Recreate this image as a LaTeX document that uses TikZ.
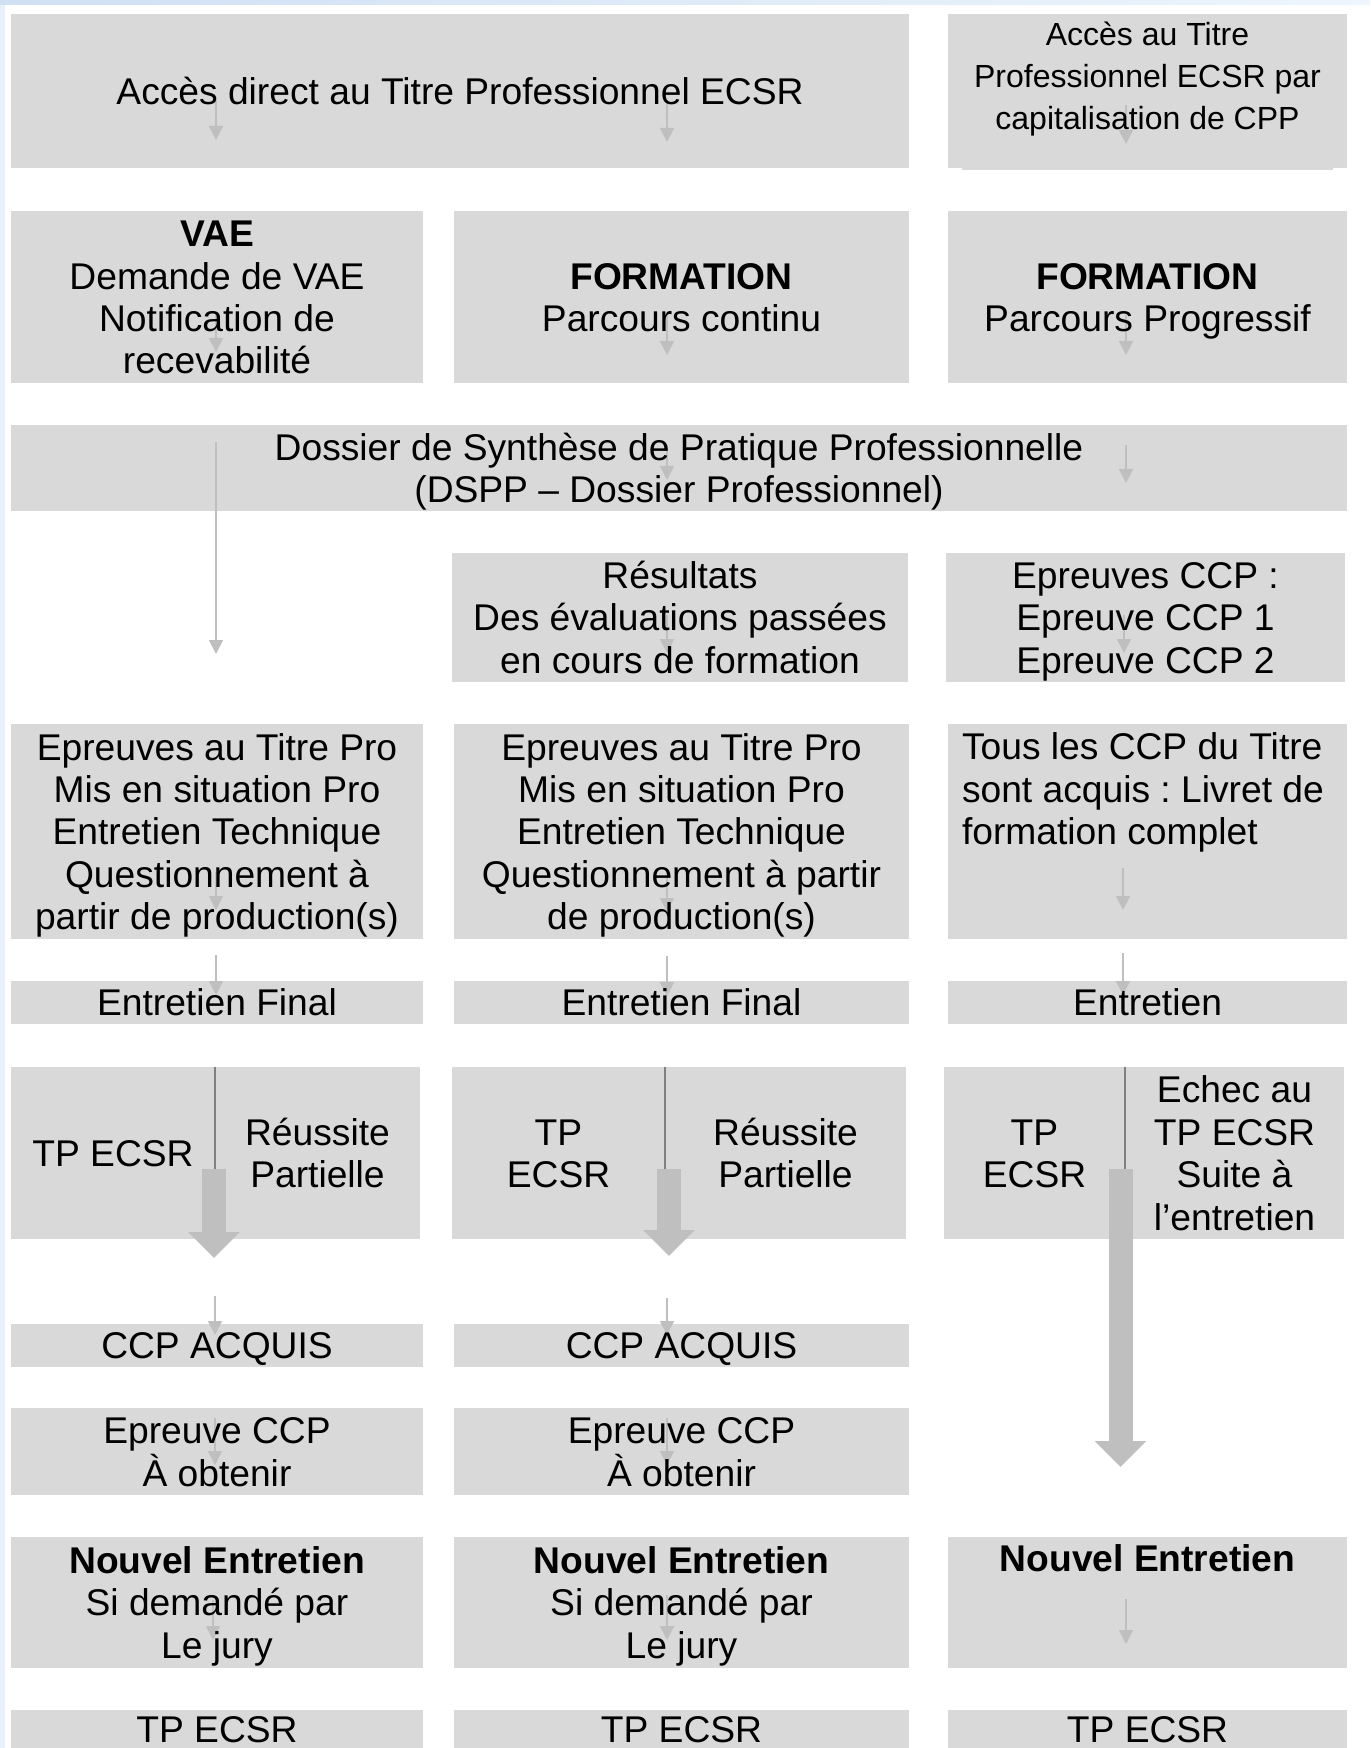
\documentclass[tikz,border=0pt]{standalone}
\usepackage{fontspec}
\setmainfont{Liberation Sans}
\usetikzlibrary{arrows.meta}
\definecolor{boxgray}{HTML}{D9D9D9}
\definecolor{arrgray}{HTML}{BFBFBF}
\definecolor{divgray}{HTML}{808080}
\definecolor{bluea}{HTML}{CFE0F4}
\definecolor{blueb}{HTML}{EEF5FC}
\definecolor{bluec}{HTML}{E8F1FB}
\pgfdeclarelayer{back}
\pgfdeclarelayer{mid}
\pgfsetlayers{back,mid,main}
\newcommand{\myfs}{\fontsize{18.6pt}{21.2pt}\selectfont}
\newcommand{\mysm}{\fontsize{16pt}{20.9pt}\selectfont}
\newcommand{\stL}{\rule[-3.8pt]{0pt}{21pt}}
\newcommand{\stS}{\rule[-4.5pt]{0pt}{20.5pt}}
\frenchspacing
\begin{document}
\begin{tikzpicture}[x=0.5pt,y=-0.5pt,
 box/.style={inner sep=0pt,outer sep=0pt,align=center,font=\myfs,
   execute at end node=\stL},
 txt/.style={inner sep=0pt,outer sep=0pt,font=\myfs,
   execute at end node=\stL},
 plaintxt/.style={inner sep=0pt,outer sep=0pt,font=\myfs},
 smalltxt/.style={inner sep=0pt,outer sep=0pt,font=\mysm,align=center,
   execute at end node=\stS},
 tarrow/.style={draw=arrgray,line width=0.9pt,-{Triangle[width=7pt,length=7pt]}},
 barrow/.style={draw=arrgray,line width=12pt,-{Triangle[width=25pt,length=13pt]}},
 divider/.style={draw=divgray,line width=1pt}]
\useasboundingbox (0,0) rectangle (1370,1748);
\clip (0,0) rectangle (1370,1748);

% row 1
\node[box,minimum width=449pt,minimum height=77pt] (top) at (460,91) {\stL Accès direct au Titre Professionnel ECSR};
\node[box,minimum width=199.5pt,minimum height=77pt] (topr) at (1147.5,91) {};
\node[smalltxt] (toprt) at (1147.5,76) {\stS Accès au Titre\\Professionnel ECSR par\\capitalisation de CPP};
% row 2
\node[box,minimum width=206pt,minimum height=86pt] (vae) at (217,297) {\stL\textbf{VAE}\\Demande de VAE\\Notification de\\recevabilité};
\node[box,minimum width=227.5pt,minimum height=86pt] (fc) at (681.5,297) {\stL\textbf{FORMATION}\\Parcours continu};
\node[box,minimum width=199.5pt,minimum height=86pt] (fp) at (1147.5,297) {\stL\textbf{FORMATION}\\Parcours Progressif};
% row 3
\node[box,minimum width=668pt,minimum height=43pt] (dspp) at (679,468) {\stL Dossier de Synthèse de Pratique Professionnelle\\(DSPP – Dossier Professionnel)};
% row 4
\node[box,minimum width=228pt,minimum height=64.5pt] (res) at (680,617.5) {\stL Résultats\\Des évaluations passées\\en cours de formation};
\node[box,minimum width=199.5pt,minimum height=64.5pt] (eccp) at (1145.5,617.5) {\stL Epreuves CCP :\\Epreuve CCP 1\\Epreuve CCP 2};
% row 5
\node[box,minimum width=206pt,minimum height=107.5pt] (etA) at (217,831.5) {\stL Epreuves au Titre Pro\\Mis en situation Pro\\Entretien Technique\\Questionnement à\\partir de production(s)};
\node[box,minimum width=227.5pt,minimum height=107.5pt] (etB) at (681.5,831.5) {\stL Epreuves au Titre Pro\\Mis en situation Pro\\Entretien Technique\\Questionnement à partir\\de production(s)};
\node[box,minimum width=199.5pt,minimum height=107.5pt] (tous) at (1147.5,831.5) {};
\node[txt,align=left,anchor=west] (toust) at (962,789) {\stL Tous les CCP du Titre\\sont acquis : Livret de\\formation complet};
% row 6
\node[box,minimum width=206pt,minimum height=21.5pt] (efA) at (217,1002.5) {\stL Entretien Final};
\node[box,minimum width=227.5pt,minimum height=21.5pt] (efB) at (681.5,1002.5) {\stL Entretien Final};
\node[box,minimum width=199.5pt,minimum height=21.5pt] (efC) at (1147.5,1002.5) {\stL Entretien};
% row 7
\node[box,minimum width=102pt,minimum height=86pt] (tpAl) at (113,1153) {\stL TP ECSR};
\node[box,minimum width=102.5pt,minimum height=86pt] (tpAr) at (317.5,1153) {\stL Réussite\\Partielle};
\node[box,minimum width=106.5pt,minimum height=86pt] (tpBl) at (558.5,1153) {\stL TP\\ECSR};
\node[box,minimum width=120.5pt,minimum height=86pt] (tpBr) at (785.5,1153) {\stL Réussite\\Partielle};
\node[box,minimum width=90.5pt,minimum height=86pt] (tpCl) at (1034.5,1153) {\stL TP\\ECSR};
\node[box,minimum width=109.5pt,minimum height=86pt] (tpCr) at (1234.5,1153) {\stL Echec au\\TP ECSR\\Suite à\\l’entretien};
% row 8
\node[box,minimum width=206pt,minimum height=21.5pt] (caA) at (217,1345.5) {\stL CCP ACQUIS};
\node[box,minimum width=227.5pt,minimum height=21.5pt] (caB) at (681.5,1345.5) {\stL CCP ACQUIS};
% row 9
\node[box,minimum width=206pt,minimum height=43.5pt] (ecA) at (217,1451.5) {\stL Epreuve CCP\\À obtenir};
\node[box,minimum width=227.5pt,minimum height=43.5pt] (ecB) at (681.5,1451.5) {\stL Epreuve CCP\\À obtenir};
% row 10
\node[box,minimum width=206pt,minimum height=65.5pt] (neA) at (217,1602.5) {\stL\textbf{Nouvel Entretien}\\Si demandé par\\Le jury};
\node[box,minimum width=227.5pt,minimum height=65.5pt] (neB) at (681.5,1602.5) {\stL\textbf{Nouvel Entretien}\\Si demandé par\\Le jury};
\node[box,minimum width=199.5pt,minimum height=65.5pt] (neC) at (1147.5,1602.5) {};
\node[txt] (neCt) at (1147.5,1558) {\stL\textbf{Nouvel Entretien}};
% row 11 (cut by the lower edge)
\node[box,minimum width=206pt,minimum height=21.5pt] (tpA) at (217,1731.5) {};
\node[box,minimum width=227.5pt,minimum height=21.5pt] (tpB) at (681.5,1731.5) {};
\node[box,minimum width=199.5pt,minimum height=21.5pt] (tpC) at (1147.5,1731.5) {};
\node[plaintxt] (tpAt) at (217,1730) {TP ECSR};
\node[plaintxt] (tpBt) at (681.5,1730) {TP ECSR};
\node[plaintxt] (tpCt) at (1147.5,1730) {TP ECSR};

% box fills and page edge tint
\begin{pgfonlayer}{back}
\fill[left color=bluea,right color=blueb] (0,0) rectangle (1370,5);
\fill[bluec] (0,5) rectangle (5,1748);
\foreach \n in {top,topr,vae,fc,fp,dspp,res,eccp,etA,etB,tous,efA,efB,efC,tpAl,tpAr,tpBl,tpBr,tpCl,tpCr,caA,caB,ecA,ecB,neA,neB,neC,tpA,tpB,tpC}
  \fill[boxgray] (\n.south west) rectangle (\n.north east);
\fill[boxgray] (962,167) rectangle (1333,170);
\end{pgfonlayer}

% connectors
\begin{pgfonlayer}{mid}
\foreach \i/\x/\ys/\ye in {1/216/100/140, 2/667/100/142, 3/1126/105/144,
  4/216/315/352, 5/667/315/355, 6/1126/315/355,
  7/216/442/654, 8/667/445/480, 9/1126/445/483,
  10/667/615/653, 11/1124/615/653,
  12/216/872/910, 13/667/872/912, 14/1123/868/910,
  15/216/955/995, 16/667/956/996, 17/1123/953/995,
  18/215/1296/1335, 19/667/1298/1335,
  20/215/1418/1465, 21/667/1418/1465,
  22/213/1600/1640, 23/667/1595/1640, 24/1126/1599/1644}
{
  \coordinate (t\i s) at (\x,\ys);
  \coordinate (t\i e) at (\x,\ye);
  \draw[tarrow] (t\i s) -- (t\i e);
}
\coordinate (bAs) at (214,1169);
\coordinate (bAe) at (214,1258);
\coordinate (bBs) at (669,1169);
\coordinate (bBe) at (669,1256);
\coordinate (bCs) at (1120.5,1169);
\coordinate (bCe) at (1120.5,1467);
\draw[barrow] (bAs) -- (bAe);
\draw[barrow] (bBs) -- (bBe);
\draw[barrow] (bCs) -- (bCe);
\draw[divider] (tpAl.north east) -- (tpAl.north east |- bAs);
\draw[divider] (tpBl.north east) -- (tpBl.north east |- bBs);
\draw[divider] (tpCl.north east) -- (tpCl.north east |- bCs);
\end{pgfonlayer}
\end{tikzpicture}
\end{document}
